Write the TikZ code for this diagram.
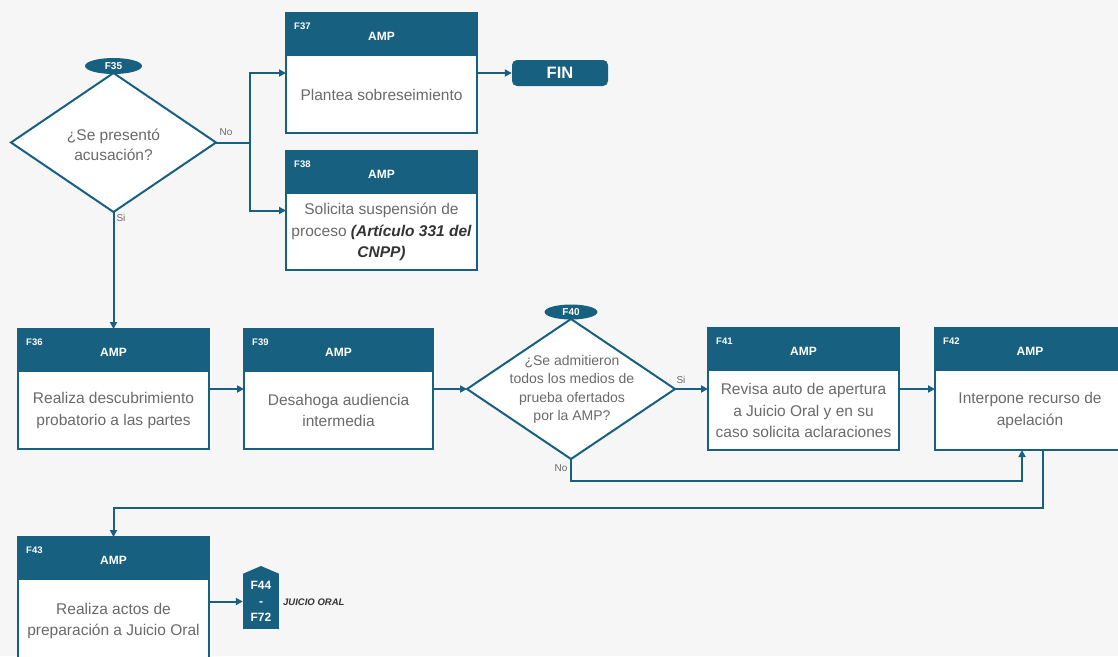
\documentclass[tikz,border=0pt]{standalone}
\usepackage{fontspec}
\setmainfont{Liberation Sans}
\usetikzlibrary{arrows.meta,calc,shapes.geometric}
\definecolor{ampteal}{HTML}{17607F}
\definecolor{bgc}{HTML}{F6F6F6}
\definecolor{txtc}{HTML}{6A6A6A}
\definecolor{darktxt}{HTML}{333333}
\tikzset{
  boxframe/.style={fill=white, draw=none, inner sep=0, outer sep=0},
  boxline/.style={draw=ampteal, line width=2pt},
  flabel/.style={anchor=west, text=white, font=\fontsize{9.5}{10}\selectfont\bfseries, inner sep=0},
  amphdr/.style={text=white, font=\fontsize{12}{13}\selectfont\bfseries, inner sep=0},
  bodytext/.style={text=txtc, font=\fontsize{15.5}{21.5}\selectfont, align=center, inner sep=0},
  conn/.style={draw=ampteal, line width=2pt, -{Triangle[length=7pt,width=7pt]}},
  plainconn/.style={draw=ampteal, line width=2pt},
  decision/.style={diamond, draw=ampteal, line width=2pt, fill=white, inner sep=0, outer sep=0},
  tagnode/.style={ellipse, fill=ampteal, text=white, font=\fontsize{10}{11}\selectfont\bfseries, inner sep=0},
  smalllbl/.style={text=txtc, font=\fontsize{10}{11}\selectfont, inner sep=0},
}
\newcommand{\procbox}[7]{%
  \node[boxframe, minimum width={#4-#2}, minimum height={#5-#3}] (#1) at ({(#2+#4)/2},{(#3+#5)/2}) {};
  \fill[ampteal] (#1.north west) rectangle ([yshift=-43pt]#1.north east);
  \draw[boxline] (#1.north west) rectangle (#1.south east);
  \node[flabel] (#1-id) at ([xshift=8pt,yshift=-13pt]#1.north west) {#6};
  \node[amphdr] (#1-hdr) at ([yshift=-23pt]#1.north) {AMP};
  \node[bodytext] (#1-txt) at ($(#1.south)!0.5!([yshift=-43pt]#1.north)$) {#7};
}
\begin{document}
\begin{tikzpicture}[x=1pt,y=-1pt]
\useasboundingbox (0,0) rectangle (1118,656);
\fill[bgc] (0,0) rectangle (1118,656);

% decision F35
\node[decision, minimum width=205, minimum height=139] (d35) at (113.5,142.5) {};
\node[bodytext, font=\fontsize{15.5}{20}\selectfont] (d35t) at (113.5,145) {¿Se presentó\\acusación?};
\node[tagnode, minimum width=57, minimum height=16] (t35) at (113.5,66) {F35};

% boxes
\procbox{f37}{286}{13}{477}{133}{F37}{Plantea sobreseimiento}
\procbox{f38}{286}{151}{477}{270}{F38}{Solicita suspensión de\\proceso \textcolor{darktxt}{\bfseries\itshape (Artículo 331 del}\\\textcolor{darktxt}{\bfseries\itshape CNPP)}}
\procbox{f36}{18}{329}{209}{449}{F36}{Realiza descubrimiento\\probatorio a las partes}
\procbox{f39}{244}{329}{433}{449}{F39}{Desahoga audiencia\\intermedia}
\procbox{f41}{708}{328}{899}{450}{F41}{Revisa auto de apertura\\a Juicio Oral y en su\\caso solicita aclaraciones}
\procbox{f42}{935}{328}{1125}{450}{F42}{Interpone recurso de\\apelación}
\procbox{f43}{18}{537}{209}{662}{F43}{Realiza actos de\\preparación a Juicio Oral}

% FIN
\node[fill=ampteal, rounded corners=5pt, minimum width=96, minimum height=26, inner sep=0,
      text=white, font=\fontsize{16.5}{17}\selectfont\bfseries] (fin) at (560,73) {FIN};

% decision F40
\node[decision, minimum width=208, minimum height=140] (d40) at (571,389) {};
\node[bodytext, font=\fontsize{14}{18.5}\selectfont] (d40t) at (572,389.5) {¿Se admitieron\\todos los medios de\\prueba ofertados\\por la AMP?};
\node[tagnode, minimum width=53, minimum height=15] (t40) at (571,312) {F40};

% off-page connector F44-F72
\node[fill=ampteal, minimum width=36, minimum height=55, inner sep=0, text=white, align=center,
      font=\fontsize{12}{16}\selectfont\bfseries] (f44) at (261,601.5) {F44\\-\\F72};
\fill[ampteal] (f44.north west) -- (261,566) -- (f44.north east) -- cycle;
\node[anchor=west, text=darktxt, font=\fontsize{9.5}{10}\selectfont\bfseries\itshape, inner sep=0] (jo) at (283,602) {JUICIO ORAL};

% connectors
\coordinate (split) at (250,142.5);
\draw[plainconn] (d35.east) -- (split);
\draw[conn] (split) |- (f37.west);
\draw[conn] (split) |- (f38.west);
\draw[conn] (f37.east) -- (fin.west);
\draw[conn] (d35.south) -- (f36.north);
\draw[conn] (f36.east) -- (f39.west);
\draw[conn] (f39.east) -- (d40.west);
\draw[conn] (d40.east) -- (f41.west);
\draw[conn] (f41.east) -- (f42.west);
\coordinate (nocorner) at (1022,481);
\draw[conn] (d40.south) |- (nocorner) -- (nocorner |- f42.south);
\coordinate (backr) at (1043,508);
\draw[conn] (backr |- f42.south) -- (backr) -| (f43.north);
\draw[conn] (f44.west -| f43.east) -- (f44.west);

% branch labels
\node[smalllbl] (no35) at (226,132) {No};
\node[smalllbl] (si35) at (121,218) {Si};
\node[smalllbl] (si40) at (681,380) {Si};
\node[smalllbl] (no40) at (561,468) {No};
\end{tikzpicture}
\end{document}
